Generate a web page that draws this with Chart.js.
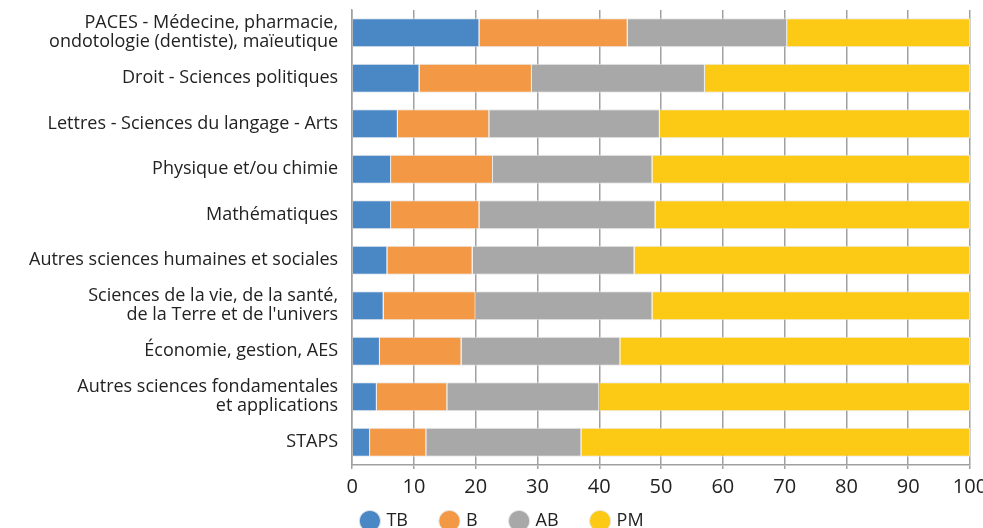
<!DOCTYPE html>
<html>
<head>
<meta charset="utf-8">
<script src="https://cdn.jsdelivr.net/npm/chart.js@4/dist/chart.umd.min.js"></script>
<style>
  html, body { margin: 0; padding: 0; background: #fff; overflow: hidden; }
  #wrap { position: relative; width: 983px; height: 540px; }
</style>
</head>
<body>
<div id="wrap"><canvas id="chart"></canvas></div>
<script>
  // Categories (top to bottom)
  const categories = [
    ['PACES - Médecine, pharmacie,', 'ondotologie (dentiste), maïeutique'],
    'Droit - Sciences politiques',
    'Lettres - Sciences du langage - Arts',
    'Physique et/ou chimie',
    'Mathématiques',
    'Autres sciences humaines et sociales',
    ['Sciences de la vie, de la santé,', "de la Terre et de l'univers"],
    'Économie, gestion, AES',
    ['Autres sciences fondamentales', 'et applications'],
    'STAPS'
  ];

  // Shares (%) per mention
  const tbValues = [20.6, 10.9, 7.4, 6.3, 6.3, 5.7, 5.1, 4.5, 4.0, 2.9];
  const bValues  = [24.0, 18.2, 14.8, 16.5, 14.3, 13.8, 14.9, 13.2, 11.4, 9.1];
  const abValues = [25.8, 28.0, 27.6, 25.8, 28.5, 26.2, 28.6, 25.7, 24.6, 25.1];
  const pmValues = [29.6, 42.9, 50.2, 51.4, 50.9, 54.3, 51.4, 56.6, 60.0, 62.9];

  const seriesLabels = ['TB', 'B', 'AB', 'PM'];
  const seriesColors = ['#4a87c5', '#f39945', '#a7a8a7', '#fcc914'];
  const xTicks = [0, 10, 20, 30, 40, 50, 60, 70, 80, 90, 100];

  const allValues = [tbValues, bValues, abValues, pmValues];

  const ctx = document.getElementById('chart').getContext('2d');
  const chart = new Chart(ctx, {
    type: 'bar',
    data: {
      labels: categories,
      datasets: allValues.map((vals, i) => ({
        label: seriesLabels[i],
        data: vals,
        backgroundColor: seriesColors[i],
        borderColor: 'rgba(230,230,230,0.9)',
        borderWidth: 1,
        categoryPercentage: 0.633,
        barPercentage: 1.0
      }))
    },
    options: {
      indexAxis: 'y',
      responsive: true,
      maintainAspectRatio: false,
      animation: false,
      layout: { padding: { top: 10, right: 0, left: 23, bottom: 0 } },
      scales: {
        x: {
          stacked: true,
          min: 0,
          max: 100,
          afterBuildTicks: axis => { axis.ticks = xTicks.map(v => ({ value: v })); },
          afterFit: axis => {
            axis.paddingRight = 13;
            // let the tick labels overlap the legend's top padding
            axis.height -= 27;
            axis._computeLabelArea = () => undefined;
          },
          grid: { color: '#a0a0a0', lineWidth: 1.5, tickLength: 4, drawOnChartArea: true },
          border: { display: true, color: '#a0a0a0', width: 1.5 },
          ticks: {
            color: '#222',
            font: { family: 'Open Sans', size: 20 },
            padding: 6,
            maxRotation: 0
          }
        },
        y: {
          stacked: true,
          afterFit: axis => {
            axis.paddingTop = 0;
            axis.paddingBottom = 0;
          },
          grid: { display: false },
          border: { display: true, color: '#a0a0a0', width: 1.5 },
          ticks: {
            color: '#222',
            font: { family: 'Open Sans', size: 18, lineHeight: 1.05 },
            padding: 6,
            autoSkip: false
          }
        }
      },
      plugins: {
        legend: {
          position: 'bottom',
          labels: {
            usePointStyle: true,
            pointStyle: 'circle',
            boxWidth: 15,
            boxHeight: 15,
            padding: 34,
            color: '#222',
            font: { family: 'Open Sans', size: 18 }
          }
        },
        tooltip: { enabled: false }
      }
    }
  });
</script>
</body>
</html>
